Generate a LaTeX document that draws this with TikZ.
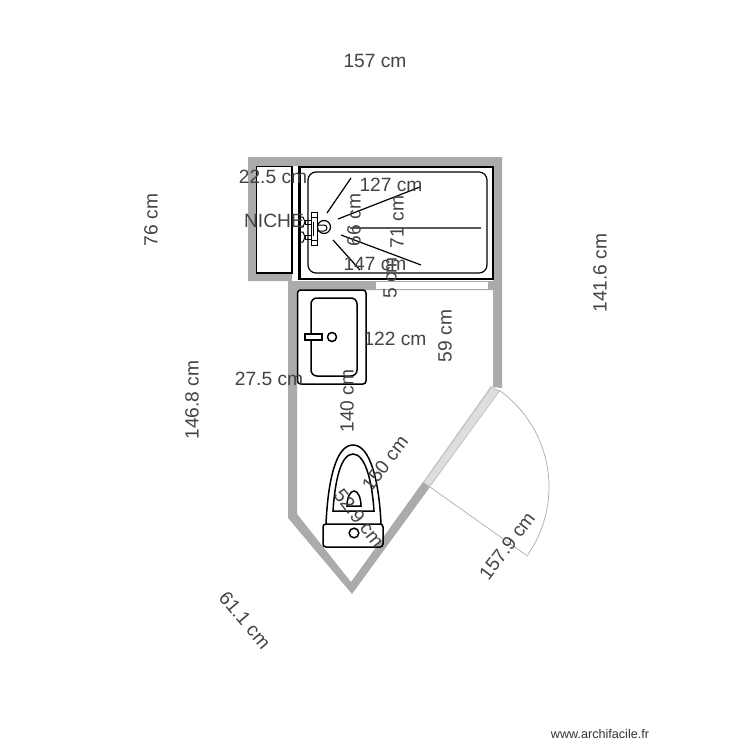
\documentclass[tikz,border=0pt]{standalone}
\usepackage{fontspec}
\setmainfont{Liberation Sans}
\definecolor{wall}{HTML}{ABABAB}
\definecolor{txt}{HTML}{444444}
\definecolor{leaf}{HTML}{DEDEDE}
\definecolor{leafedge}{HTML}{C4C4C4}
\tikzset{
  lbl/.style={text=txt,font=\fontsize{19.2}{21}\selectfont,inner sep=0pt},
  fix/.style={draw=black,line width=1.5pt,fill=none},
  thin line/.style={draw=wall,line width=0.7pt}
}
\begin{document}
\begin{tikzpicture}[x=1pt,y=-1pt]
\useasboundingbox (0,0) rectangle (750,750);
\fill[white] (0,0) rectangle (750,750);
% walls
\fill[wall,even odd rule] (248,157) -- (502,157) -- (502,388) -- (493,387) -- (493,290) -- (297,290) -- (297,514) -- (351,582) -- (423,482) -- (430,487) -- (352,594) -- (288,518) -- (288,281) -- (248,281) -- cycle
 (256,166) -- (256,273) -- (292,273) -- (292,281) -- (493,281) -- (493,166) -- cycle;
% opening in the wall
\fill[white] (376,282) rectangle (488,289);
\draw[thin line] (376,289) -- (488,289);
% door leaf
\fill[leafedge] (423,482) -- (430,487) -- (500,391) -- (491,386) -- cycle;
\fill[leaf] (424.5,482.3) -- (429.5,485.8) -- (498.5,391.5) -- (492,387.5) -- cycle;
\draw[thin line] (430,487) -- (526,555);
\draw[thin line] plot[domain=35.7:-54.6,samples=50] ({430+119*cos(\x)},{487+119*sin(\x)});
% niche
\draw[fix] (256.5,166.5) rectangle (292,273);
% shower
\draw[draw=black,line width=2.2pt] (299.5,167) rectangle (493,279);
\draw[draw=black,line width=1.2pt,rounded corners=8pt] (308,172) rectangle (487,273);
\draw[black,line width=1.2pt] (351,178) -- (327,213) (338,219) -- (420,187) (350,228) -- (481,228) (341,235) -- (421,265) (333,240) -- (360,270);
\draw[black,line width=1.2pt] (324,227) circle (6.5);
\draw[black,line width=1pt] (317,225) -- (324,225) arc[start angle=90,end angle=-90,radius=3pt] -- (318,231);
\draw[black,line width=1pt] (311,212) rectangle (317,245);
\draw[black,line width=0.8pt] (311,217) -- (317,217) (311,240) -- (317,240) (313,222) -- (313,236);
\draw[black,line width=1pt] (311,220) -- (305,220) -- (305,224) -- (311,224);
\draw[black,line width=1pt] (311,235) -- (305,235) -- (305,239) -- (311,239);
\draw[black,line width=1pt] (300,217) -- (303,217) -- (305,222) -- (303,227) -- (300,227);
\draw[black,line width=1pt] (300,232) -- (303,232) -- (305,237) -- (303,242) -- (300,242);
% sink
\draw[fix,rounded corners=3pt] (297.5,290) rectangle (366,384);
\draw[fix,rounded corners=6pt] (311,298) rectangle (357,376);
\draw[fix,fill=white] (305,334) rectangle (322,340);
\draw[fix] (332,337) circle (4.5);
% toilet
\draw[fix] (326,524) .. controls (328,480) and (336,445) .. (353,445) .. controls (370,445) and (379,480) .. (381,524);
\draw[fix] (333,511) .. controls (335,480) and (341,454) .. (353,454) .. controls (365,454) and (372,480) .. (374,511) -- cycle;
\draw[fix] (347,506) .. controls (347,498) and (350,491) .. (354,491) .. controls (358,491) and (361,498) .. (361,506) -- cycle;
\draw[fix,rounded corners=3pt] (323,524) rectangle (383,547);
\draw[fix] (354,533) circle (4.8);
% labels
\node[lbl] (a) at (375,61) {157 cm};
\node[lbl,rotate=90] (b) at (151,220) {76 cm};
\node[lbl,rotate=90] (c) at (600,273) {141.6 cm};
\node[lbl,rotate=90] (d) at (192,400) {146.8 cm};
\node[lbl,rotate=-50] (e) at (245,620) {61.1 cm};
\node[lbl] (f) at (273,177) {22.5 cm};
\node[lbl] (g) at (391,185) {127 cm};
\node[lbl,rotate=90] (h) at (354,220) {66 cm};
\node[lbl,rotate=90] (i) at (397,222) {71 cm};
\node[lbl] (j) at (375,264) {147 cm};
\node[lbl] (k) at (274,221) {NICHE};
\node[lbl,rotate=90] (l) at (390,278) {5 cm};
\node[lbl] (m) at (395,339) {122 cm};
\node[lbl,rotate=90] (n) at (445,336) {59 cm};
\node[lbl] (o) at (269,379) {27.5 cm};
\node[lbl,rotate=90] (p) at (347,401) {140 cm};
\node[lbl,rotate=53] (q) at (385,463) {150 cm};
\node[lbl,rotate=-52] (r) at (359,518) {52.9 cm};
\node[lbl,rotate=53] (s) at (507,546) {157.9 cm};
\node[text=black!80,font=\fontsize{12.6}{14}\selectfont,inner sep=0pt] (w) at (600,734) {www.archifacile.fr};
\end{tikzpicture}
\end{document}
